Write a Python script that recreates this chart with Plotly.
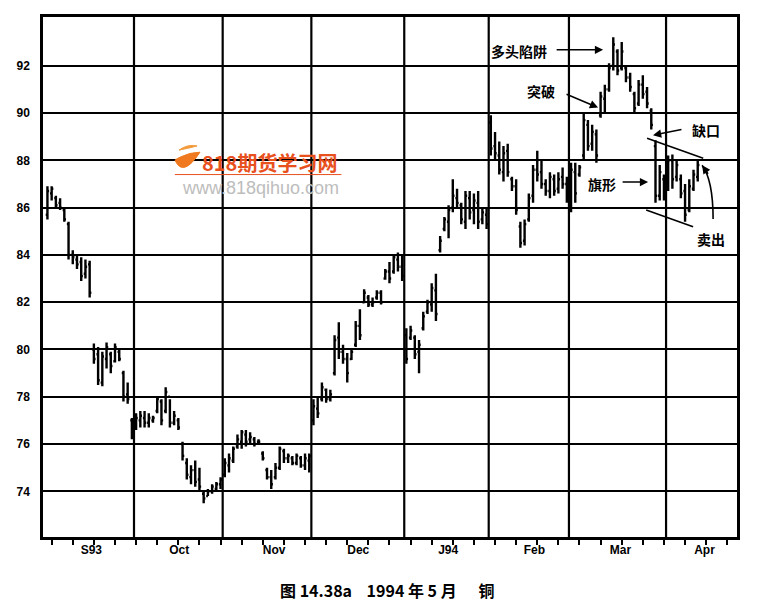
import plotly.graph_objects as go

# ---------------- data (trading-day index from 1 Sep 1993) ----------------
month_labels = ["S93", "Oct", "Nov", "Dec", "J94", "Feb", "Mar", "Apr"]
month_label_pos = [10.4, 31.2, 53.7, 73.6, 94.9, 115.3, 135.7, 155.6]
month_bounds = [20.5, 41.5, 62.5, 84.5, 104.5, 123.5, 146.5]
y_ticks = [74, 76, 78, 80, 82, 84, 86, 88, 90, 92]

high = [
    86.9, 86.9, 86.5, 86.4, 86.0, 85.4, 84.2, 84.0, 83.9, 83.8, 83.75,
    80.25, 80.1, 79.9, 80.3, 79.9, 80.25, 80.0, 79.1, 78.6, 77.1,
    77.3, 77.4, 77.4, 77.3, 77.2, 78.0, 77.9, 78.4, 77.9, 77.4, 77.1,
    76.1, 75.4, 75.1, 75.3, 75.0, 74.0, 74.1, 74.3, 74.4, 74.6,
    75.4, 75.6, 75.9, 76.4, 76.6, 76.6, 76.5, 76.3, 76.2, 75.7, 75.0,
    74.9, 75.2, 75.9, 75.8, 75.6, 75.5, 75.6, 75.5, 75.6, 75.6,
    77.9, 78.0, 78.6, 78.35, 78.3, 80.6, 81.15, 80.2, 79.85, 80.0,
    81.2, 81.7, 82.55, 82.3, 82.2, 82.5, 82.5, 83.4, 83.7, 84.0, 84.1, 84.0,
    80.9, 81.0, 80.6, 80.4, 81.6, 82.1, 82.8, 83.2,
    84.8, 85.6, 86.1, 87.2, 86.8, 86.2, 86.7, 86.7, 86.6, 86.7, 86.0, 86.0,
    89.9, 89.2, 88.8, 88.6, 88.7, 87.3, 87.2, 85.4, 85.5,
    86.6, 87.8, 88.4, 88.0, 87.2, 87.5, 87.4, 87.5, 87.7, 87.3, 87.9, 87.9, 87.8,
    90.0, 89.7, 89.5, 89.3,
    90.9, 91.2, 92.1, 93.2, 92.7, 93.0, 92.0, 91.7, 90.9, 91.4, 91.6, 91.1, 90.2,
    88.85, 87.8, 87.4, 88.2, 88.25, 88.0, 87.4, 87.0, 87.2, 87.6, 88.0,
]
low = [
    85.5, 86.3, 86.0, 85.9, 85.4, 83.8, 83.6, 83.4, 82.9, 83.0, 82.2,
    79.4, 78.5, 78.45, 79.2, 79.0, 79.45, 79.5, 77.8, 77.7, 76.2,
    76.6, 76.7, 76.7, 76.7, 76.9, 77.3, 76.8, 77.3, 76.7, 76.8, 76.6,
    75.3, 74.5, 74.3, 74.2, 74.0, 73.5, 73.8, 73.9, 74.0, 74.1,
    74.6, 74.8, 75.2, 75.8, 75.8, 75.9, 76.0, 75.9, 76.0, 75.3, 74.5,
    74.1, 74.5, 74.9, 75.2, 75.2, 75.1, 75.1, 75.0, 74.9, 74.8,
    76.8, 77.1, 77.8, 77.75, 77.8, 78.9, 79.6, 79.4, 78.6, 79.55,
    80.1, 80.4, 81.95, 81.8, 81.8, 82.1, 81.9, 82.95, 82.8, 83.2, 83.3, 82.9,
    79.4, 80.4, 79.6, 79.0, 80.8, 81.5, 81.6, 81.2,
    84.1, 85.0, 84.7, 85.8, 86.0, 85.3, 85.1, 85.5, 85.3, 85.1, 85.3, 85.1,
    88.2, 88.0, 87.4, 87.1, 87.3, 86.7, 85.7, 84.3, 84.4,
    85.4, 86.2, 87.1, 86.8, 86.5, 86.4, 86.5, 86.6, 86.8, 86.2, 85.8, 86.2, 87.3,
    88.0, 88.4, 88.4, 87.9,
    89.8, 90.0, 90.9, 91.8, 91.6, 91.8, 91.3, 90.9, 90.0, 90.3, 90.6, 90.2, 89.3,
    86.2, 86.3, 86.3, 86.7, 86.8, 87.1, 86.4, 85.4, 85.8, 86.7, 87.1,
]
open_ = [
    85.7, 86.6, 86.4, 86.2, 85.9, 85.3, 84.0, 83.8, 83.7, 83.2, 83.6,
    80.0, 79.8, 78.6, 79.6, 79.8, 79.5, 79.9, 79.0, 78.1, 77.0,
    76.7, 77.0, 77.1, 76.9, 77.0, 77.4, 77.8, 77.4, 78.0, 76.9, 77.0,
    76.0, 75.2, 74.6, 74.9, 74.5, 73.9, 73.8, 74.0, 74.1, 74.3,
    74.7, 75.1, 75.3, 75.9, 76.1, 76.4, 76.2, 76.2, 76.1, 75.6, 74.9,
    74.6, 74.6, 75.0, 75.7, 75.4, 75.4, 75.2, 75.4, 75.1, 75.3,
    77.0, 77.5, 77.9, 78.3, 77.9, 79.0, 80.5, 79.9, 79.6, 79.6,
    80.2, 81.0, 82.0, 82.2, 81.9, 82.2, 82.4, 83.0, 83.3, 83.3, 83.8, 83.5,
    80.6, 80.5, 80.5, 79.9, 80.9, 81.6, 81.9, 82.5,
    84.2, 85.1, 85.4, 86.0, 86.4, 86.1, 85.4, 86.4, 85.9, 86.2, 85.5, 85.7,
    89.6, 88.6, 88.2, 87.5, 88.4, 87.2, 86.9, 85.2, 84.6,
    85.5, 86.5, 87.6, 87.5, 87.0, 86.7, 87.2, 86.8, 87.3, 87.0, 86.3, 87.5, 87.4,
    88.2, 89.5, 88.7, 89.1,
    89.9, 90.6, 91.0, 92.0, 92.6, 91.9, 91.9, 91.5, 90.8, 90.4, 91.2, 90.9, 90.1,
    88.6, 86.5, 87.2, 86.8, 88.0, 87.3, 87.2, 86.7, 85.9, 86.8, 87.3,
]
close = [
    86.7, 86.8, 86.1, 86.0, 85.5, 84.0, 83.9, 83.6, 83.1, 83.5, 82.4,
    79.6, 78.7, 79.7, 80.1, 79.3, 80.1, 79.6, 78.0, 77.9, 76.5,
    77.1, 77.2, 76.9, 77.1, 77.1, 77.9, 77.0, 78.2, 76.9, 77.2, 76.7,
    75.5, 74.7, 74.9, 74.4, 74.2, 73.7, 74.0, 74.2, 74.3, 74.5,
    75.2, 75.4, 75.8, 76.2, 76.5, 76.1, 76.3, 76.0, 76.1, 75.4, 74.6,
    74.3, 75.0, 75.8, 75.4, 75.5, 75.2, 75.5, 75.1, 75.4, 75.5,
    77.6, 77.3, 78.4, 77.9, 78.1, 80.4, 79.9, 79.6, 79.0, 79.9,
    81.0, 80.6, 82.4, 81.9, 82.0, 82.4, 82.0, 83.3, 83.0, 83.9, 83.5, 83.1,
    79.6, 80.8, 79.8, 80.2, 81.4, 82.0, 82.6, 81.5,
    84.6, 85.5, 85.9, 86.5, 86.2, 85.5, 86.5, 85.8, 86.3, 85.4, 85.8, 85.3,
    88.5, 88.3, 87.6, 88.3, 87.5, 86.9, 85.9, 84.5, 85.3,
    86.4, 87.6, 87.4, 87.0, 86.7, 87.3, 86.7, 87.2, 87.0, 86.4, 87.6, 86.6, 87.7,
    89.7, 88.6, 89.2, 88.2,
    90.7, 91.0, 91.9, 92.9, 91.8, 92.6, 91.5, 91.1, 90.2, 91.2, 90.8, 90.4, 89.5,
    86.5, 87.5, 86.6, 88.0, 87.2, 87.8, 86.6, 85.7, 86.9, 87.4, 87.8,
]
days = list(range(len(high)))

# ---------------- figure ----------------
fig = go.Figure()
fig.add_trace(go.Ohlc(
    x=days, open=open_, high=high, low=low, close=close,
    increasing=dict(line=dict(color="black", width=2.4)),
    decreasing=dict(line=dict(color="black", width=2.4)),
    tickwidth=0.4, showlegend=False, hoverinfo="skip",
))

# month grid lines
for b in month_bounds:
    fig.add_shape(type="line", xref="x", yref="paper", x0=b, x1=b, y0=0, y1=1,
                  line=dict(color="black", width=2.2), layer="below")

# flag boundary lines
fig.add_shape(type="line", xref="x", yref="y", x0=142.0, y0=88.93, x1=155.3, y1=88.09,
              line=dict(color="black", width=1.6))
fig.add_shape(type="line", xref="x", yref="y", x0=141.8, y0=85.9, x1=152.9, y1=85.19,
              line=dict(color="black", width=1.6))
# curved "sell" arrow
fig.add_shape(type="path", xref="x", yref="y",
              path="M 157.64,85.52 Q 157.64,87.16 155.03,87.79",
              line=dict(color="black", width=1.6))

# watermark logo + underline (paper coordinates)
fig.add_shape(type="path", xref="paper", yref="paper",
              path="M 0.1902,0.7247 Q 0.2017,0.6902 0.2262,0.7400 "
                   "Q 0.2118,0.7400 0.1974,0.7304 Q 0.1935,0.7280 0.1902,0.7247 Z",
              line=dict(color="#f07a1e", width=1), fillcolor="#f0781e")
fig.add_shape(type="path", xref="paper", yref="paper",
              path="M 0.1960,0.7440 Q 0.2080,0.7560 0.2220,0.7520 "
                   "Q 0.2080,0.7470 0.1960,0.7440 Z",
              line=dict(color="#f39a3a", width=1), fillcolor="#f39a3a")
fig.add_shape(type="line", xref="paper", yref="paper", x0=0.190, x1=0.430,
              y0=0.697, y1=0.697, line=dict(color="#e8501e", width=1))

cjk = "Noto Sans CJK SC"
ann_font = dict(family=cjk, size=14, color="black", weight="bold")
arrow_kw = dict(showarrow=True, arrowhead=2, arrowsize=1.1, arrowwidth=1.5,
                arrowcolor="black", text="", xref="x", yref="y")
txt_kw = dict(showarrow=False, font=ann_font, xref="x", yref="y",
              xanchor="center", yanchor="middle")

annotations = [
    dict(x=111.7, y=92.63, text="多头陷阱", **txt_kw),
    dict(x=131.6, y=92.67, ax=-48, ay=0, **arrow_kw),
    dict(x=116.9, y=90.95, text="突破", **txt_kw),
    dict(x=130.4, y=90.23, ax=-33, ay=-14, **arrow_kw),
    dict(x=156.0, y=89.27, text="缺口", **txt_kw),
    dict(x=143.4, y=89.06, ax=30, ay=-6, **arrow_kw),
    dict(x=131.4, y=87.0, text="旗形", **txt_kw),
    dict(x=142.25, y=87.08, ax=-27, ay=0, **arrow_kw),
    dict(x=157.2, y=84.68, text="卖出", **txt_kw),
    dict(x=155.03, y=87.79, ax=7, ay=10, **arrow_kw),
    # caption
    dict(x=0.495, y=-0.101, xref="paper", yref="paper", xanchor="center", yanchor="middle",
         text="图 14.38a    1994 年 5 月      铜", showarrow=False,
         font=dict(family=cjk, size=16, color="black", weight="bold")),
    # watermark
    dict(x=0.327, y=0.721, xref="paper", yref="paper", xanchor="center", yanchor="middle",
         text="818期货学习网", showarrow=False,
         font=dict(family=cjk, size=20, color="#e8501e", weight="bold")),
    dict(x=0.313, y=0.671, xref="paper", yref="paper", xanchor="center", yanchor="middle",
         text="www.818qihuo.com", showarrow=False,
         font=dict(family="Liberation Sans", size=18, color="#bdbdbd")),
]

tick_font = dict(family="Liberation Sans", size=12, color="black", weight="bold")

fig.update_layout(
    width=750, height=602,
    margin=dict(l=35, r=21, t=6, b=73),
    paper_bgcolor="white", plot_bgcolor="white",
    showlegend=False,
    annotations=annotations,
    xaxis=dict(
        range=[-1.05, 163.3], rangeslider=dict(visible=False),
        tickmode="array", tickvals=month_label_pos, ticktext=month_labels,
        ticks="", showgrid=False, zeroline=False,
        showline=True, mirror=True, linecolor="black", linewidth=2.5,
        tickfont=tick_font,
        minor=dict(tickmode="array", tickvals=list(range(1, 163, 5)),
                   ticks="outside", ticklen=5, tickwidth=1.5, tickcolor="black",
                   showgrid=False),
    ),
    yaxis=dict(
        range=[72.07, 94.06],
        tickmode="array", tickvals=y_ticks, ticktext=[str(v) for v in y_ticks],
        showgrid=True, gridcolor="black", gridwidth=2,
        zeroline=False, ticks="", ticklabelstandoff=8,
        showline=True, mirror=True, linecolor="black", linewidth=2.5,
        tickfont=tick_font,
    ),
)

fig.write_html("out.html")
